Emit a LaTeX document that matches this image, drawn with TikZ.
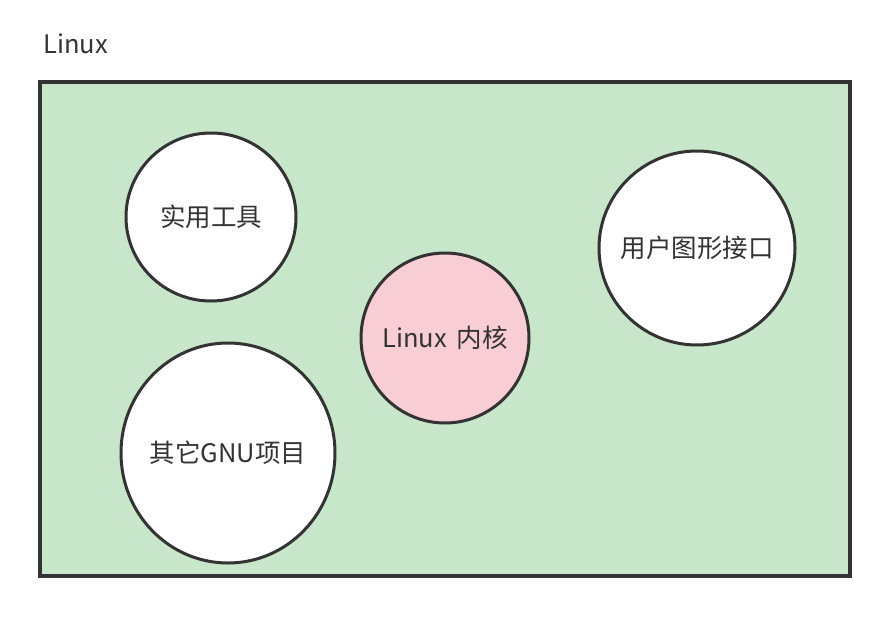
\documentclass[tikz,border=0pt]{standalone}
\usepackage{fontspec}
\setmainfont{Noto Sans CJK SC}
\usepackage{xcolor}
\usepackage{tikz}
\usetikzlibrary{shapes.geometric}
\definecolor{sysGreen}{HTML}{C8E6C9}
\definecolor{kernelPink}{HTML}{F8CDD3}
\definecolor{lineDark}{HTML}{333333}

\begin{document}
\begin{tikzpicture}[
  x=1pt, y=-1pt,
  font=\fontsize{25.5}{30}\selectfont,
  part/.style={ellipse, draw=lineDark, line width=3pt, fill=white, text=lineDark, inner sep=-40pt},
  frame/.style={draw=lineDark, line width=3.5pt, fill=sysGreen}
]
\useasboundingbox (0,0) rectangle (880,618);
\node[anchor=west, text=lineDark] (title) at (40,44) {Linux};
\draw[frame] (40,82) rectangle (850,576);
\node[part, minimum width=170pt, minimum height=168pt] (tools) at (211,217) {实用工具};
\node[part, minimum width=214pt, minimum height=220pt] (gnu) at (228,453) {其它GNU项目};
\node[part, fill=kernelPink, minimum width=168pt, minimum height=170pt] (kernel) at (445,338) {Linux\ \,内核};
\node[part, minimum width=196pt, minimum height=194pt] (gui) at (697,248) {用户图形接口};
\end{tikzpicture}
\end{document}
